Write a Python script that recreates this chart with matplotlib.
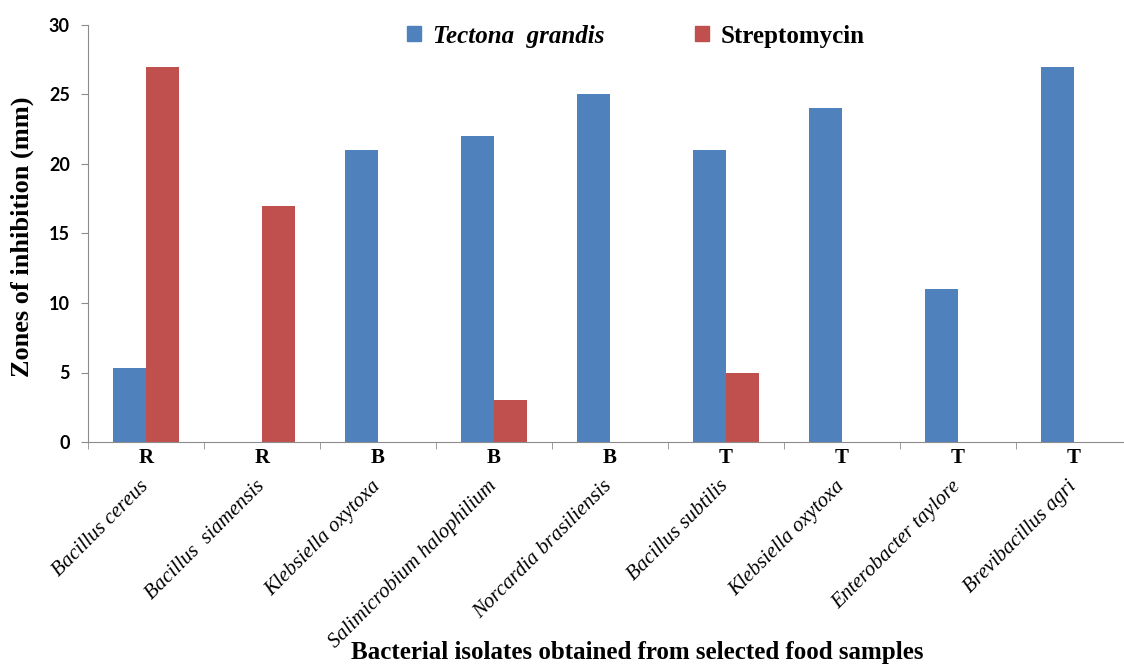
import numpy as np
import matplotlib.pyplot as plt
from matplotlib.patches import Patch

# values (zone of inhibition, mm)
isolates = ["Bacillus cereus", "Bacillus  siamensis", "Klebsiella oxytoxa",
            "Salimicrobium halophilium", "Norcardia brasiliensis", "Bacillus subtilis",
            "Klebsiella oxytoxa", "Enterobacter taylore", "Brevibacillus agri"]
sources = ["R", "R", "B", "B", "B", "T", "T", "T", "T"]
tectona = [5.3, 0, 21, 22, 25, 21, 24, 11, 27]
streptomycin = [27, 17, 0, 3, 0, 5, 0, 0, 0]

BLUE = "#4F81BD"
RED = "#C0504D"
GREY = "#8C8C8C"
SERIF = "Liberation Serif"

fig = plt.figure(figsize=(11.24, 6.64), dpi=100)
ax = fig.add_axes([88 / 1124, 1 - 442 / 664, 1044 / 1124, 417 / 664])

x = np.arange(len(isolates))
w = 0.285
ax.bar(x - w / 2, tectona, w, color=BLUE)
ax.bar(x + w / 2, streptomycin, w, color=RED)

ax.set_xlim(-0.5, len(isolates) - 0.5)
ax.set_ylim(0, 30)
ax.set_yticks(range(0, 31, 5))
for lab in ax.get_yticklabels():
    lab.set_fontfamily("Lato")
    lab.set_fontweight("bold")
    lab.set_fontsize(13)

# letters under each group, boundaries as minor ticks
ax.set_xticks(x)
ax.set_xticklabels(sources, fontfamily=SERIF, fontweight="bold", fontsize=15)
ax.tick_params(axis="x", which="major", length=0, pad=4)
ax.set_xticks(np.arange(-0.5, len(isolates), 1), minor=True)
ax.tick_params(axis="x", which="minor", length=5, color=GREY)
ax.tick_params(axis="y", length=5, color=GREY, pad=8)

for s in ["top", "right"]:
    ax.spines[s].set_visible(False)
ax.spines["left"].set_color(GREY)
ax.spines["bottom"].set_color(GREY)

# rotated species names
for xi, name in zip(x, isolates):
    ax.annotate(name, xy=(xi, 0), xycoords=("data", "axes fraction"),
                xytext=(-5, -25), textcoords="offset points",
                rotation=45, rotation_mode="anchor", ha="right", va="top",
                fontfamily=SERIF, fontstyle="italic", fontsize=15)

fig.text(22 / 1124, 1 - 237 / 664, "Zones of inhibition (mm)", rotation=90,
         ha="center", va="center", fontfamily=SERIF, fontweight="bold", fontsize=19)
fig.text(637 / 1124, 1 - 652 / 664, "Bacterial isolates obtained from selected food samples",
         ha="center", va="center", fontfamily=SERIF, fontweight="bold", fontsize=18)

handles = [Patch(color=BLUE), Patch(color=RED)]
leg = fig.legend(handles, ["Tectona  grandis", "Streptomycin"], loc="center",
                 bbox_to_anchor=(636 / 1124, 1 - 36 / 664), ncol=2, frameon=False,
                 handlelength=0.55, handleheight=0.55, handletextpad=0.5, columnspacing=3.6,
                 prop={"family": SERIF, "weight": "bold", "size": 18})
leg.get_texts()[0].set_fontstyle("italic")

fig.savefig("out.png", dpi=100)
